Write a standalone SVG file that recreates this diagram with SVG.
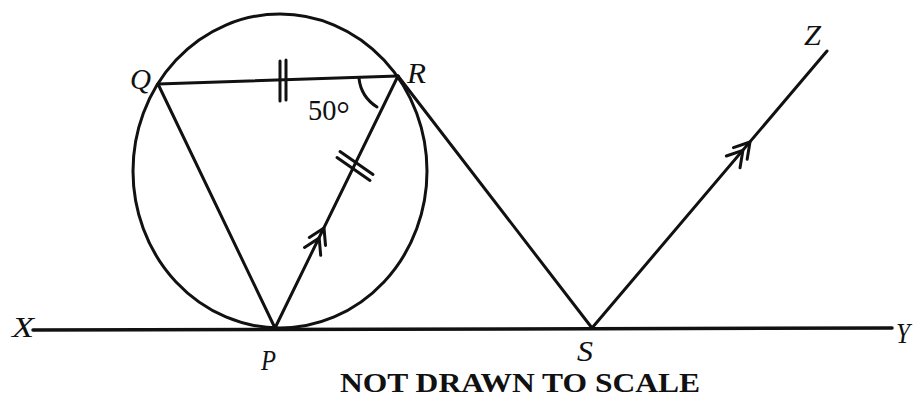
<svg xmlns="http://www.w3.org/2000/svg" width="914" height="400" viewBox="0 0 914 400">
<defs>
<style>
.ln{fill:none;stroke:#111;stroke-width:3;stroke-linecap:round;stroke-linejoin:round}
.lbl{font-family:"Liberation Serif","Times New Roman",serif;font-style:italic;font-size:30px;fill:#111}
.ang{font-family:"Liberation Serif","Times New Roman",serif;font-size:30px;fill:#111}
.note{font-family:"Liberation Serif","Times New Roman",serif;font-weight:bold;font-size:27px;fill:#111}
</style>
<path id="chev" d="M-15,-9 L0,0 L-15,9 M-26,-9 L-11,0 L-26,9"/>
</defs>
<rect width="914" height="400" fill="#fff"/>
<g id="circle"><ellipse class="ln" cx="280" cy="171" rx="147" ry="157"/></g>
<g id="lines">
<line class="ln" x1="33" y1="330" x2="892" y2="328" style="stroke-width:3.5"/>
<line class="ln" x1="158" y1="84" x2="398" y2="76"/>
<line class="ln" x1="158" y1="84" x2="275" y2="328"/>
<line class="ln" x1="398" y1="76" x2="275" y2="328"/>
<line class="ln" x1="398" y1="76" x2="592" y2="328"/>
<line class="ln" x1="592" y1="328" x2="827" y2="51"/>
</g>
<g id="marks">
<line class="ln" x1="280" y1="61" x2="280" y2="101"/>
<line class="ln" x1="286" y1="60" x2="286" y2="100"/>
<line class="ln" x1="340" y1="151.5" x2="373" y2="174.5"/>
<line class="ln" x1="337" y1="157.5" x2="370" y2="180.5"/>
<path class="ln" d="M359,78.5 A39,39 0 0 0 377,107"/>
<use href="#chev" class="ln" transform="translate(324,228) rotate(-64)"/>
<use href="#chev" class="ln" transform="translate(750,142) rotate(-49.7)"/>
</g>
<g id="labels">
<text class="lbl" x="12" y="337" textLength="22" lengthAdjust="spacingAndGlyphs">X</text>
<text class="lbl" x="896" y="343" textLength="14" lengthAdjust="spacingAndGlyphs">Y</text>
<text class="lbl" x="130" y="89" textLength="21" lengthAdjust="spacingAndGlyphs">Q</text>
<text class="lbl" x="407" y="83" textLength="19" lengthAdjust="spacingAndGlyphs">R</text>
<text class="lbl" x="261" y="370" textLength="15" lengthAdjust="spacingAndGlyphs">P</text>
<text class="lbl" x="577" y="361" textLength="16" lengthAdjust="spacingAndGlyphs">S</text>
<text class="lbl" x="804" y="45" textLength="17" lengthAdjust="spacingAndGlyphs">Z</text>
<text class="ang" x="308" y="120" textLength="42" lengthAdjust="spacingAndGlyphs">50<tspan style="font-size:36px" dy="6">°</tspan></text>
<text class="note" x="340" y="392" textLength="360" lengthAdjust="spacingAndGlyphs">NOT DRAWN TO SCALE</text>
</g>
</svg>
